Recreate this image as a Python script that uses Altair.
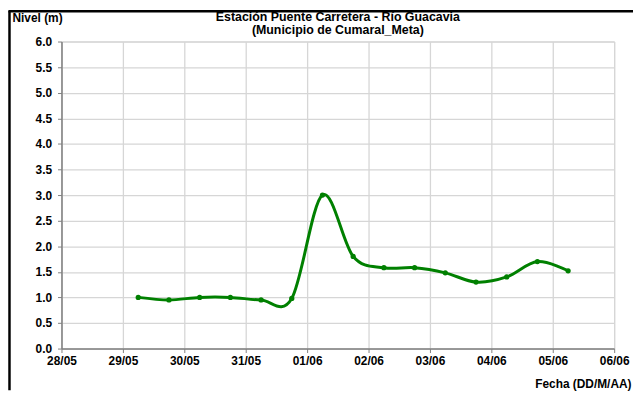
import altair as alt
import pandas as pd

fechas = [
    "2011-05-29T06:00", "2011-05-29T18:00",
    "2011-05-30T06:00", "2011-05-30T18:00",
    "2011-05-31T06:00", "2011-05-31T18:00",
    "2011-06-01T06:00", "2011-06-01T18:00",
    "2011-06-02T06:00", "2011-06-02T18:00",
    "2011-06-03T06:00", "2011-06-03T18:00",
    "2011-06-04T06:00", "2011-06-04T18:00",
    "2011-06-05T06:00",
]
niveles = [1.0, 0.95, 1.0, 1.0, 0.95, 0.98, 3.0, 1.8, 1.58, 1.58, 1.48, 1.3, 1.4, 1.7, 1.52]

dias = [(5, 28), (5, 29), (5, 30), (5, 31), (6, 1), (6, 2), (6, 3), (6, 4), (6, 5), (6, 6)]
y_ticks = [0.0, 0.5, 1.0, 1.5, 2.0, 2.5, 3.0, 3.5, 4.0, 4.5, 5.0, 5.5, 6.0]
titulo = ["Estación Puente Carretera - Río Guacavia", "(Municipio de Cumaral_Meta)"]

df = pd.DataFrame({"fecha": fechas, "nivel": niveles})

W, H = 558, 310
PL, PT, PR, PB = 54, 32, 19, 42
FONT = "Liberation Sans"
FS = 12
GREEN = "#008000"

x_vals = [alt.DateTime(year=2011, month=m, date=d) for m, d in dias]

x_enc = alt.X(
    "fecha:T",
    scale=alt.Scale(domain=[x_vals[0], x_vals[-1]]),
    axis=alt.Axis(
        values=x_vals, format="%d/%m", title="Fecha (DD/M/AA)",
        titleAnchor="start", titleAlign="right", titleBaseline="middle",
        titleX=575, titleY=35,
        titleFontSize=FS, titleFontWeight="bold", titleFont=FONT, titleColor="black",
        labelFont=FONT, labelFontSize=FS, labelFontWeight="bold", labelColor="black",
        labelPadding=3, tickSize=4, tickColor="#808080", domainColor="#808080",
        domainWidth=1.5, gridColor="#d6d6d6", gridWidth=1.3, labelFlush=False,
        labelOverlap=False,
    ),
)
y_enc = alt.Y(
    "nivel:Q",
    scale=alt.Scale(domain=[0, 6], nice=False),
    axis=alt.Axis(
        values=y_ticks, format=".1f", title="Nivel (m)",
        titleAngle=0, titleAlign="left", titleBaseline="middle",
        titleX=-50, titleY=-24,
        titleFontSize=FS, titleFontWeight="bold", titleFont=FONT, titleColor="black",
        labelFont=FONT, labelFontSize=FS, labelFontWeight="bold", labelColor="black",
        labelPadding=6, tickSize=4, tickColor="#808080", domainColor="#808080",
        domainWidth=1.5, gridColor="#d6d6d6", gridWidth=1.3, labelOverlap=False,
    ),
)

base = alt.Chart(df).encode(x=x_enc, y=y_enc)
line = base.mark_line(color=GREEN, strokeWidth=3, interpolate="cardinal")
pts = base.mark_point(filled=True, color=GREEN, size=28, opacity=1, shape="circle")

one = pd.DataFrame({"a": [0]})
border_left = alt.Chart(one).mark_rule(color="black", strokeWidth=2.5).encode(
    x=alt.value(-PL + 1.5), y=alt.value(-PT + 1), y2=alt.value(H + PB)
)
border_top = alt.Chart(one).mark_rule(color="black", strokeWidth=2.5).encode(
    x=alt.value(-PL + 0.5), x2=alt.value(W + PR), y=alt.value(-PT + 1.5)
)

def title_line(txt, ypos):
    return alt.Chart(one).mark_text(
        font=FONT, fontSize=12.5, fontWeight="bold", color="black",
        align="center", baseline="middle",
    ).encode(text=alt.value(txt), x=alt.value(W / 2), y=alt.value(ypos))

t1 = title_line(titulo[0], -25)
t2 = title_line(titulo[1], -12)

chart = alt.layer(line, pts, border_left, border_top, t1, t2).properties(
    width=W, height=H,
    autosize=alt.AutoSizeParams(type="none"),
    padding={"left": PL, "top": PT, "right": PR, "bottom": PB},
).configure_view(stroke="#b4b4b4", strokeWidth=1.3).configure(background="white")

chart.save("out.html", embed_options={"renderer": "svg", "actions": False})
